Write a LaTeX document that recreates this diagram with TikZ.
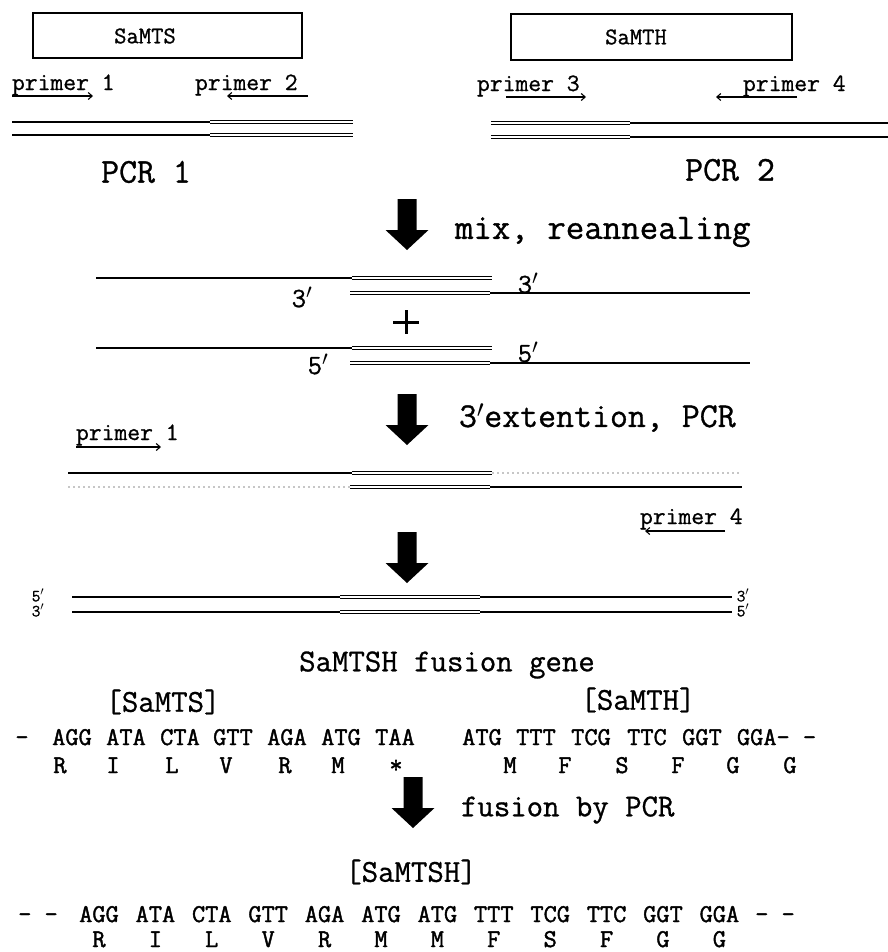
\documentclass[tikz,border=0pt]{standalone}
\usepackage{fontspec}
\usetikzlibrary{arrows.meta}
\newfontfamily\twf{lmmono12-regular.otf}[FakeBold=0.9]
\newfontfamily\seqf{lmmono12-regular.otf}[FakeBold=1.6]
\newcommand\fs[1]{\fontsize{#1}{#1}\selectfont\twf}
\newcommand\fq[1]{\fontsize{#1}{#1}\selectfont\seqf}
\newcommand\pr{\ensuremath{'}}
\begin{document}
\begin{tikzpicture}[x=1bp,y=-1bp,
  every node/.style={inner sep=0pt, outer sep=0pt},
  sgl/.style={line width=1.8bp},
  hol/.style={double, line width=1.2bp, double distance=2.3bp},
  faint/.style={gray!45, line width=1.6bp, dash pattern=on 2bp off 3bp},
  gbox/.style={draw, line width=1.3bp},
  ulin/.style={line width=1.1bp},
  tipR/.style={-{Straight Barb[length=4bp,width=7bp]}},
  ptxt/.style={font=\fs{25}, anchor=base west},
  big/.style={font=\fs{35}},
  midt/.style={font=\fs{32}},
  endlab/.style={font=\fs{28}},
  tiny/.style={font=\fs{17}},
  seq/.style={font=\fq{25.7}, anchor=base},
  blockarrow/.pic={\fill (-9.5,0) -- (9.5,0) -- (9.5,31) -- (21.5,31) -- (0,51) -- (-21.5,31) -- (-9.5,31) -- cycle;}
]
\useasboundingbox (0,0) rectangle (888,952);

% boxes
\draw[gbox] (33,13) rectangle (302,58);
\node[font=\fs{24}] (tS) at (145,36) {SaMTS};
\draw[gbox] (511,14) rectangle (792,60);
\node[font=\fs{24}] (tH) at (636,37) {SaMTH};

% primers (top)
\node[ptxt] (p1) at (12,90) {primer 1};
\draw[ulin,tipR] (12,96) -- (93,96);
\node[ptxt] (p2) at (195,90) {primer 2};
\draw[ulin,tipR] (308,96) -- (227,96);
\node[ptxt] (p3) at (477,91) {primer 3};
\draw[ulin,tipR] (506,97) -- (586,97);
\node[ptxt] (p4) at (743,91) {primer 4};
\draw[ulin,tipR] (797,97) -- (716,97);

% PCR products
\foreach \y in {122,135} {
  \draw[sgl] (12,\y) -- (210,\y);
  \draw[hol] (210,\y) -- (353,\y);
}
\foreach \y in {123,137} {
  \draw[hol] (491,\y) -- (630,\y);
  \draw[sgl] (630,\y) -- (888,\y);
}
\node[big] (pcr1) at (146,172) {PCR 1};
\node[big] (pcr2) at (730,170) {PCR 2};

% step 1
\pic at (407,199) {blockarrow};
\node[font=\fs{36}, anchor=west] (mix) at (455,232) {mix, reannealing};

% pair 1
\draw[sgl] (96,278) -- (352,278);
\draw[hol] (352,278) -- (492,278);
\draw[hol] (350,293) -- (490,293);
\draw[sgl] (490,293) -- (750,293);
\node[endlab] (a3l) at (302,297) {3\pr};
\node[endlab] (a3r) at (528,283) {3\pr};
\draw[line width=3bp] (393,322) -- (419,322) (406,310) -- (406,334);
% pair 2
\draw[sgl] (96,348) -- (352,348);
\draw[hol] (352,348) -- (492,348);
\draw[hol] (350,363) -- (490,363);
\draw[sgl] (490,363) -- (750,363);
\node[endlab] (a5l) at (318,364) {5\pr};
\node[endlab] (a5r) at (528,352) {5\pr};

% step 2
\pic at (407,394) {blockarrow};
\node[font=\fs{35}, anchor=west] (ext) at (459,418) {3\pr extention, PCR};
\node[ptxt] (p1b) at (76,440) {primer 1};
\draw[ulin,tipR] (76,447) -- (161,447);
\draw[sgl] (68,473) -- (352,473);
\draw[hol] (352,473) -- (492,473);
\draw[faint] (492,473) -- (742,473);
\draw[faint] (68,487) -- (350,487);
\draw[hol] (350,487) -- (490,487);
\draw[sgl] (490,487) -- (742,487);
\node[ptxt] (p4b) at (640,524) {primer 4};
\draw[ulin,tipR] (725,531) -- (645,531);

% step 3
\pic at (407,532) {blockarrow};
\foreach \y in {597,612} {
  \draw[sgl] (72,\y) -- (340,\y);
  \draw[hol] (340,\y) -- (480,\y);
  \draw[sgl] (480,\y) -- (732,\y);
}
\node[tiny] (e5l) at (38,595) {5\pr};
\node[tiny] (e3l) at (38,610) {3\pr};
\node[tiny] (e3r) at (743,595) {3\pr};
\node[tiny] (e5r) at (743,610) {5\pr};

\node[midt] (fg) at (447,665) {SaMTSH fusion gene};
\node[midt] (bS) at (163,702) {[SaMTS]};
\node[midt] (bH) at (638,700) {[SaMTH]};

% sequence 1
\foreach \t/\x [count=\i] in {-/22, AGG/72, ATA/126, CTA/180, GTT/233, AGA/287, ATG/341, TAA/395, ATG/482, TTT/536, TCG/591, TTC/647, GGT/702}
  \node[seq] (sa\i) at (\x,745) {\t};
\node[seq, anchor=base west] (saend) at (737,745) {GGA-~-};
\foreach \t/\x [count=\i] in {R/60, I/113, L/172, V/226, R/285, M/338, */396, M/510, F/565, S/622, F/678, G/733, G/790}
  \node[seq] (aa\i) at (\x,773) {\t};

% step 4
\pic at (413,777) {blockarrow};
\node[midt, anchor=west] (fus) at (461,810) {fusion by PCR};
\node[midt] (bSH) at (411,872) {[SaMTSH]};

% sequence 2
\node[seq] (sbl) at (38,922) {-~-};
\foreach \t [count=\i from 0] in {AGG,ATA,CTA,GTT,AGA,ATG,ATG,TTT,TCG,TTC,GGT,GGA}
  \node[seq] (sb\i) at ({99+56.4*\i},922) {\t};
\node[seq] (sbr) at (775,922) {-~-};
\foreach \t [count=\i from 0] in {R,I,L,V,R,M,M,F,S,F,G,G}
  \node[seq] (ab\i) at ({99+56.4*\i},947) {\t};
\end{tikzpicture}
\end{document}
